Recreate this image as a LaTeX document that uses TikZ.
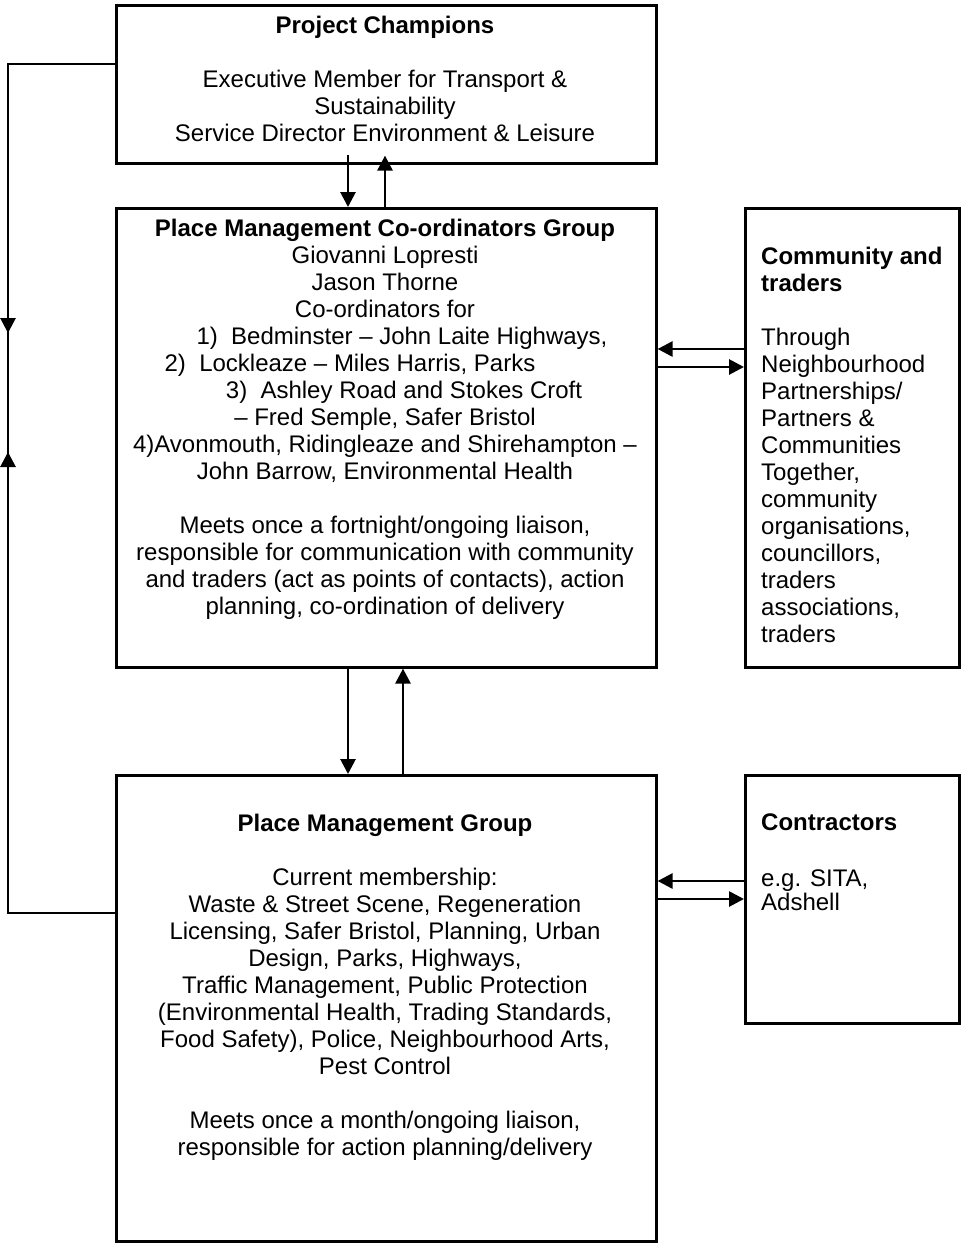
\documentclass[tikz,border=0pt]{standalone}
\usepackage{fontspec}
\setmainfont{Liberation Sans}
\usetikzlibrary{arrows.meta}
\begin{document}
\begin{tikzpicture}[x=1pt,y=-1pt,
  box/.style={draw,line width=2.6pt,inner sep=0pt,anchor=north west},
  txt/.style={inner sep=0pt,align=center,anchor=base,font=\fontsize{24}{27}\selectfont},
  ltxt/.style={inner sep=0pt,align=left,anchor=base west,font=\fontsize{24}{27}\selectfont},
  arr/.style={line width=2.8pt,-{Triangle[width=15pt,length=15pt]}},
  link/.style={line width=2.6pt}]
\useasboundingbox (0,0) rectangle (962,1243);

% boxes
\node[box,minimum width=540pt,minimum height=158pt] (champ) at (115,4) {};
\node[box,minimum width=540pt,minimum height=459pt] (pmcg) at (115,207) {};
\node[box,minimum width=214pt,minimum height=459pt] (comm) at (744,207) {};
\node[box,minimum width=540pt,minimum height=466pt] (pmg) at (115,774) {};
\node[box,minimum width=214pt,minimum height=248pt] (contr) at (744,774) {};

% box texts (each anchored at the baseline of its last line)
\node[txt] (champT) at (385,141) {\textbf{Project Champions}\\[27pt]
  Executive Member for Transport \&\\
  Sustainability\\
  Service Director Environment \& Leisure};

\node[txt] (pmcgT) at (385,614) {\textbf{Place Management Co-ordinators Group}\\
  Giovanni Lopresti\\
  Jason Thorne\\
  Co-ordinators for\\
  \hspace*{34pt}1)\ \ Bedminster – John Laite Highways,\\
  2)\ \ Lockleaze – Miles Harris, Parks\hspace*{70pt}\mbox{}\\
  \hspace*{38pt}3)\ \ Ashley Road and Stokes Croft\\
  – Fred Semple, Safer Bristol\\
  4)Avonmouth, Ridingleaze and Shirehampton –\\
  John Barrow, Environmental Health\\[27pt]
  Meets once a fortnight/ongoing liaison,\\
  responsible for communication with community\\
  and traders (act as points of contacts), action\\
  planning, co-ordination of delivery};

\node[ltxt] (commT) at (761,642) {\textbf{Community and}\\
  \textbf{traders}\\[27pt]
  Through\\
  Neighbourhood\\
  Partnerships/\\
  Partners \&\\
  Communities\\
  Together,\\
  community\\
  organisations,\\
  councillors,\\
  traders\\
  associations,\\
  traders};

\node[txt] (pmgT) at (385,1155) {\textbf{Place Management Group}\\[27pt]
  Current membership:\\
  Waste \& Street Scene, Regeneration\\
  Licensing, Safer Bristol, Planning, Urban\\
  Design, Parks, Highways,\\
  Traffic Management, Public Protection\\
  (Environmental Health, Trading Standards,\\
  Food Safety), Police, Neighbourhood Arts,\\
  Pest Control\\[27pt]
  Meets once a month/ongoing liaison,\\
  responsible for action planning/delivery};

\node[ltxt] (contrT) at (761,910) {\textbf{Contractors}\\[29pt]
  e.g. SITA,\\[-3pt]
  Adshell};

% vertical connectors
\draw[arr] ([xshift=233pt,yshift=10pt]champ.south west) -- ([xshift=233pt]pmcg.north west);
\draw[arr] ([xshift=270pt]pmcg.north west) -- ([xshift=270pt,yshift=9pt]champ.south west);
\draw[arr] ([xshift=233pt]pmcg.south west) -- ([xshift=233pt]pmg.north west);
\draw[arr] ([xshift=288pt]pmg.north west) -- ([xshift=288pt]pmcg.south west);

% horizontal connectors
\draw[arr] ([yshift=-142pt]comm.north west) -- ([yshift=-142pt]pmcg.north east);
\draw[arr] ([yshift=-160pt]pmcg.north east) -- ([yshift=-160pt]comm.north west);
\draw[arr] ([yshift=-107pt]contr.north west) -- ([yshift=-107pt]pmg.north east);
\draw[arr] ([yshift=-125pt]pmg.north east) -- ([yshift=-125pt]contr.north west);

% feedback loop on the left
\coordinate (loopTop) at (8,64);
\coordinate (loopBot) at (8,913);
\coordinate (tipUp) at (8,333);
\coordinate (tipDown) at (8,452);
\draw[link] ([yshift=-60pt]champ.north west) -- (loopTop) -- (tipDown);
\draw[link] ([yshift=-139pt]pmg.north west) -- (loopBot) -- (tipUp);
\draw[arr] ([yshift=-16pt]tipDown) -- (tipDown);
\draw[arr] ([yshift=16pt]tipUp) -- (tipUp);
\end{tikzpicture}
\end{document}
